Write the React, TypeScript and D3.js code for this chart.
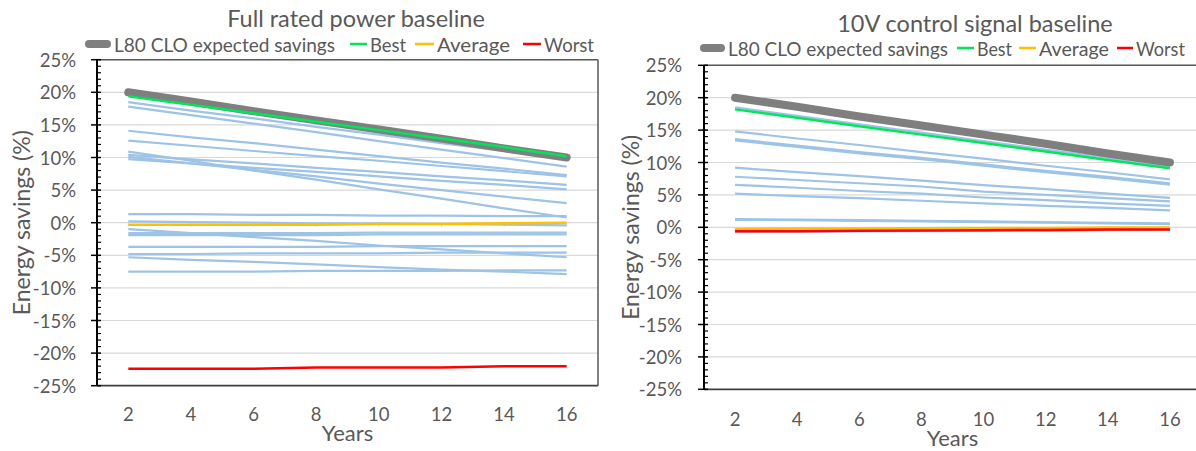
import React from "react";
import * as d3 from "d3";

const years = [2, 4, 6, 8, 10, 12, 14, 16];
const yTicks = [-25, -20, -15, -10, -5, 0, 5, 10, 15, 20, 25];
const xTicks = [2, 4, 6, 8, 10, 12, 14, 16];

// Full rated power baseline
const fullL80 = [20.0, 18.6, 17.1, 15.7, 14.3, 12.9, 11.4, 10.0];
const fullBest = [19.4, 18.1, 16.8, 15.5, 14.2, 12.9, 11.6, 10.2];
const fullAverage = [-0.3, -0.3, -0.3, -0.3, -0.2, -0.2, -0.1, 0.0];
const fullWorst = [-22.4, -22.4, -22.4, -22.2, -22.2, -22.2, -22.0, -22.0];
const fullProducts = [
  [18.5, 17.2, 16.0, 14.7, 13.5, 12.2, 11.0, 9.7],
  [17.8, 16.5, 15.2, 13.9, 12.5, 11.2, 9.9, 8.6],
  [14.1, 13.1, 12.2, 11.2, 10.2, 9.2, 8.3, 7.3],
  [12.6, 11.8, 11.0, 10.2, 9.5, 8.7, 7.9, 7.1],
  [10.9, 9.5, 8.0, 6.6, 5.1, 3.7, 2.2, 0.8],
  [10.4, 9.7, 9.1, 8.4, 7.8, 7.1, 6.5, 5.8],
  [10.1, 9.1, 8.1, 7.1, 6.0, 5.0, 4.0, 3.0],
  [9.75, 9.1, 8.4, 7.8, 7.1, 6.4, 5.8, 5.1],
  [1.3, 1.3, 1.2, 1.2, 1.1, 1.1, 1.0, 1.0],
  [0.2, 0.1, 0.0, -0.1, -0.1, -0.2, -0.3, -0.4],
  [-1.0, -1.6, -2.2, -2.8, -3.5, -4.1, -4.7, -5.3],
  [-1.6, -1.6, -1.6, -1.6, -1.5, -1.5, -1.5, -1.5],
  [-1.9, -1.9, -1.9, -1.9, -1.8, -1.8, -1.8, -1.8],
  [-3.7, -3.7, -3.7, -3.7, -3.6, -3.6, -3.6, -3.6],
  [-4.8, -4.8, -4.7, -4.7, -4.7, -4.6, -4.6, -4.6],
  [-5.3, -5.7, -6.0, -6.4, -6.8, -7.2, -7.5, -7.9],
  [-7.5, -7.5, -7.5, -7.4, -7.4, -7.4, -7.3, -7.3],
];

// 10V control signal baseline
const tenL80 = [20.0, 18.6, 17.1, 15.7, 14.3, 12.9, 11.4, 10.0];
const tenBest = [18.2, 16.9, 15.6, 14.3, 13.0, 11.7, 10.4, 9.1];
const tenAverage = [-0.25, -0.2, -0.2, -0.15, -0.1, -0.1, -0.05, -0.05];
const tenWorst = [-0.6, -0.6, -0.55, -0.5, -0.45, -0.4, -0.35, -0.35];
const tenProducts = [
  [18.5, 17.2, 15.9, 14.6, 13.3, 12.0, 10.7, 9.4],
  [14.8, 13.7, 12.7, 11.6, 10.6, 9.5, 8.5, 7.4],
  [13.6, 12.6, 11.6, 10.7, 9.7, 8.7, 7.8, 6.8],
  [13.4, 12.4, 11.4, 10.5, 9.5, 8.5, 7.6, 6.6],
  [9.2, 8.5, 7.9, 7.2, 6.5, 5.9, 5.2, 4.55],
  [7.8, 7.3, 6.8, 6.3, 5.5, 5.0, 4.5, 4.0],
  [6.55, 6.1, 5.6, 5.2, 4.6, 4.2, 3.7, 3.3],
  [5.2, 4.8, 4.5, 4.1, 3.7, 3.3, 3.0, 2.6],
  [1.25, 1.2, 1.1, 1.0, 0.9, 0.8, 0.7, 0.6],
  [1.15, 1.1, 1.0, 0.9, 0.8, 0.7, 0.6, 0.5],
  [-0.75, -0.7, -0.65, -0.6, -0.55, -0.5, -0.45, -0.4],
];

const legendLabels = ["L80 CLO expected savings", "Best", "Average", "Worst"];

const FONT = "Lato, 'Open Sans', sans-serif";
const TEXT = "#595959";
const BLUE = "#9dc3e6";
const GRAY = "#7f7f7f";
const GREEN = "#00e65a";
const ORANGE = "#ffc000";
const RED = "#ff0000";

type LegendLayout = { markerX: number[]; textX: number[]; textW: number[] };

const fullLegend: LegendLayout = {
  markerX: [85, 350, 415, 523],
  textX: [114, 370, 437, 544],
  textW: [221, 36, 73, 50],
};
const tenLegend: LegendLayout = {
  markerX: [700, 957, 1019, 1117],
  textX: [728, 977, 1039, 1136],
  textW: [220, 35, 70, 49],
};

type ChartProps = {
  title: string;
  titleX: number;
  titleY: number;
  legend: LegendLayout;
  legendY: number;
  x0: number;
  x1: number;
  y0: number;
  y1: number;
  xLabelY: number;
  xTitleY: number;
  yTitleX: number;
  yLabelGap: number;
  l80: number[];
  best: number[];
  average: number[];
  worst: number[];
  products: number[][];
  rightBorder: boolean;
};

function Chart(p: ChartProps) {
  const x = d3.scaleLinear().domain([1, 17]).range([p.x0, p.x1]);
  const y = d3.scaleLinear().domain([-25, 25]).range([p.y1, p.y0]);
  const line = d3
    .line<number>()
    .x((_, i) => x(years[i]))
    .y((d) => y(d));
  const minor = d3.range(-25, 26, 1).filter((v) => v % 5 !== 0);
  const legendColors = [GRAY, GREEN, ORANGE, RED];

  return (
    <g fontFamily={FONT}>
      <text x={p.titleX} y={p.titleY} textAnchor="middle" dominantBaseline="central" fontSize={23.5} fill={TEXT}>
        {p.title}
      </text>
      {legendLabels.map((lab, i) => {
        const mx = p.legend.markerX[i];
        const mw = p.legend.textX[i] - 3 - mx;
        return (
          <g key={lab}>
            {i === 0 ? (
              <line x1={mx + 4} x2={mx + mw - 4} y1={p.legendY} y2={p.legendY} stroke={legendColors[i]} strokeWidth={8} strokeLinecap="round" />
            ) : (
              <line x1={mx} x2={mx + mw} y1={p.legendY} y2={p.legendY} stroke={legendColors[i]} strokeWidth={2.5} />
            )}
            <text
              x={p.legend.textX[i]}
              y={p.legendY}
              dominantBaseline="central"
              fontSize={19.5}
              fill={TEXT}
              textLength={p.legend.textW[i]}
              lengthAdjust="spacingAndGlyphs"
            >
              {lab}
            </text>
          </g>
        );
      })}
      {yTicks.map((t) => (
        <line key={t} x1={p.x0} x2={p.x1} y1={y(t)} y2={y(t)} stroke="#d9d9d9" strokeWidth={1.2} />
      ))}
      {xTicks.map((t) => (
        <line key={t} x1={x(t)} x2={x(t)} y1={y(0)} y2={y(0) + 4} stroke="#d9d9d9" strokeWidth={1} />
      ))}
      <line x1={p.x0} x2={p.x1} y1={p.y0} y2={p.y0} stroke={TEXT} strokeWidth={1.5} />
      <line x1={p.x0} x2={p.x1} y1={p.y1} y2={p.y1} stroke="#404040" strokeWidth={1.8} />
      {p.rightBorder && <line x1={p.x1} x2={p.x1} y1={p.y0} y2={p.y1} stroke={TEXT} strokeWidth={1.5} />}
      <line x1={p.x0} x2={p.x0} y1={p.y0} y2={p.y1} stroke="#000" strokeWidth={2} />
      {yTicks.map((t) => (
        <line key={t} x1={p.x0 - 6} x2={p.x0 + 4} y1={y(t)} y2={y(t)} stroke="#000" strokeWidth={1.5} />
      ))}
      {minor.map((t) => (
        <line key={t} x1={p.x0} x2={p.x0 + 4} y1={y(t)} y2={y(t)} stroke="#000" strokeWidth={1.2} />
      ))}
      {yTicks.map((t) => (
        <text key={t} x={p.x0 - p.yLabelGap} y={y(t)} textAnchor="end" dominantBaseline="central" fontSize={18.5} fill={TEXT}>
          {`${t}%`}
        </text>
      ))}
      {xTicks.map((t) => (
        <text key={t} x={x(t)} y={p.xLabelY} textAnchor="middle" dominantBaseline="central" fontSize={18.5} fill={TEXT}>
          {t}
        </text>
      ))}
      <text x={(p.x0 + p.x1) / 2} y={p.xTitleY} textAnchor="middle" dominantBaseline="central" fontSize={22} fill={TEXT}>
        Years
      </text>
      <text
        transform={`translate(${p.yTitleX},${(p.y0 + p.y1) / 2}) rotate(-90)`}
        textAnchor="middle"
        dominantBaseline="central"
        fontSize={23}
        fill={TEXT}
      >
        Energy savings (%)
      </text>
      {p.products.map((s, i) => (
        <path key={i} d={line(s) || ""} fill="none" stroke={BLUE} strokeWidth={2.2} />
      ))}
      <path d={line(p.l80) || ""} fill="none" stroke={GRAY} strokeWidth={8} strokeLinecap="round" strokeLinejoin="round" />
      <path d={line(p.average) || ""} fill="none" stroke={ORANGE} strokeWidth={2.5} />
      <path d={line(p.best) || ""} fill="none" stroke={GREEN} strokeWidth={2.5} />
      <path d={line(p.worst) || ""} fill="none" stroke={RED} strokeWidth={2.5} />
    </g>
  );
}

export default function App() {
  return (
    <svg
      width={1196}
      height={451}
      viewBox="0 0 1196 451"
      style={{ position: "absolute", left: 0, top: 0, background: "#fff" }}
    >
      <rect x={0} y={0} width={1196} height={451} fill="#fff" />
      <Chart
        title="Full rated power baseline"
        titleX={356}
        titleY={18}
        legend={fullLegend}
        legendY={44}
        x0={97}
        x1={598}
        y0={59.7}
        y1={385.7}
        xLabelY={414}
        xTitleY={432}
        yTitleX={21}
        yLabelGap={21}
        l80={fullL80}
        best={fullBest}
        average={fullAverage}
        worst={fullWorst}
        products={fullProducts}
        rightBorder={true}
      />
      <Chart
        title="10V control signal baseline"
        titleX={975}
        titleY={23}
        legend={tenLegend}
        legendY={48}
        x0={704}
        x1={1201}
        y0={65.3}
        y1={389.3}
        xLabelY={419}
        xTitleY={437}
        yTitleX={630}
        yLabelGap={22}
        l80={tenL80}
        best={tenBest}
        average={tenAverage}
        worst={tenWorst}
        products={tenProducts}
        rightBorder={false}
      />
    </svg>
  );
}
